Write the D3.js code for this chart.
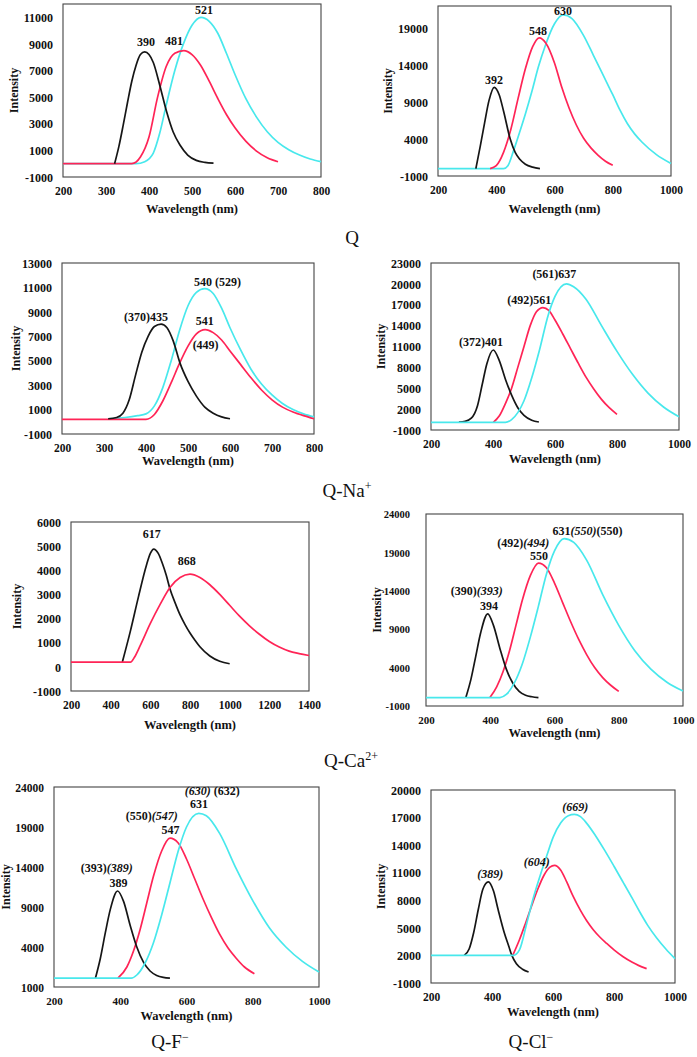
<!DOCTYPE html>
<html><head><meta charset="utf-8">
<script src="https://cdn.jsdelivr.net/npm/d3@7"></script>
<style>body{margin:0;background:#fff}svg{display:block}</style>
</head><body><svg id="c" width="697" height="1057"></svg>
<script>
// ---------- DATA (wavelength nm, intensity) ----------
const p1Black = [[320,0],[330,1300],[340,2900],[350,4600],[360,6200],[370,7400],[380,8200],[390,8400],[400,8200],[410,7600],[425,5900],[441,3900],[456,2400],[472,1400],[490,650],[510,250],[530,100],[550,50]];
const p1Red   = [[200,0],[360,0],[380,500],[400,2000],[420,5000],[440,7300],[460,8300],[481,8500],[500,8200],[520,7400],[540,6200],[560,4900],[580,3700],[600,2700],[625,1700],[650,950],[675,450],[700,150]];
const p1Teal  = [[200,0],[370,0],[390,150],[410,800],[425,2300],[440,4400],[460,7000],[480,9000],[500,10400],[521,11000],[540,10700],[560,9800],[580,8300],[600,6700],[625,4900],[650,3500],[675,2400],[700,1600],[725,1050],[750,650],[775,350],[800,150]];

const p2Black = [[330,0],[345,3000],[360,6200],[375,9200],[393,11000],[410,10000],[425,7800],[448,4000],[465,2200],[480,1300],[500,600],[525,200],[550,0]];
const p2Red   = [[379,0],[400,400],[425,2200],[450,5300],[475,9500],[500,13500],[525,16500],[548,17700],[570,17000],[600,14300],[625,11000],[650,8200],[675,5900],[700,4100],[725,2800],[750,1800],[775,1000],[800,450]];
const p2Teal  = [[200,0],[425,0],[440,400],[460,2500],[480,4900],[500,7400],[522,10400],[545,13800],[568,16600],[600,19600],[630,20800],[660,20300],[700,18000],[734,15300],[780,11600],[800,10000],[825,7900],[850,6100],[875,4700],[900,3600],[950,1900],[1000,700]];

const p3Black = [[310,250],[330,350],[345,700],[360,1800],[375,3800],[390,5700],[405,7000],[420,7800],[436,8000],[450,7700],[465,6600],[481,4800],[500,3300],[520,2100],[540,1200],[560,700],[580,400],[600,250]];
const p3Red   = [[200,200],[400,200],[420,600],[440,1700],[460,3200],[480,4800],[500,6200],[520,7200],[541,7550],[560,7300],[580,6700],[600,5800],[625,4700],[650,3600],[675,2600],[700,1800],[725,1200],[750,800],[775,500],[800,250]];
const p3Teal  = [[310,250],[350,350],[380,500],[400,650],[420,1300],[440,2800],[460,5000],[480,7500],[500,9500],[520,10600],[540,10900],[560,10500],[580,9300],[600,7700],[625,5900],[650,4300],[675,3100],[700,2200],[725,1500],[750,1000],[775,650],[800,400]];

const p4Black = [[290,150],[310,250],[330,700],[350,2500],[365,5500],[380,8500],[401,10500],[420,9000],[440,6300],[460,4000],[480,2200],[500,1100],[525,400],[548,150]];
const p4Red   = [[401,100],[420,1000],[440,2800],[460,5000],[480,8000],[500,11000],[520,14000],[540,16000],[561,16600],[580,16200],[600,14800],[625,12800],[650,10700],[675,8600],[700,6600],[725,4900],[750,3400],[775,2200],[800,1250]];
const p4Teal  = [[200,100],[440,100],[460,500],[480,1500],[500,3200],[525,6500],[550,10500],[578,15500],[600,18200],[637,20000],[660,19600],[700,17800],[750,14000],[800,10300],[850,7000],[900,4300],[950,2300],[1000,900]];

const p5Black = [[459,200],[500,1500],[540,2900],[580,4200],[600,4700],[617,4880],[640,4700],[660,4300],[680,3800],[700,3200],[725,2650],[750,2150],[775,1750],[800,1400],[825,1100],[850,830],[900,450],[950,230],[1000,130]];
const p5Red   = [[200,200],[500,200],[520,400],[550,900],[600,1800],[650,2600],[700,3300],[750,3700],[800,3840],[850,3700],[900,3400],[950,3000],[1000,2550],[1050,2100],[1100,1700],[1150,1350],[1200,1050],[1250,820],[1300,650],[1350,550],[1400,470]];

const p6Black = [[324,100],[340,2500],[355,5500],[370,8500],[392,11000],[410,9500],[430,6500],[450,3800],[470,2000],[490,900],[510,400],[530,200],[550,100]];
const p6Red   = [[399,100],[420,1500],[440,3500],[460,6200],[480,9500],[500,12800],[525,16000],[550,17600],[575,17000],[600,15000],[625,12500],[650,10000],[675,7700],[700,5700],[725,4000],[750,2700],[775,1700],[800,900]];
const p6Teal  = [[200,100],[430,100],[450,500],[475,2000],[500,4500],[525,8000],[550,12000],[575,16200],[600,19200],[630,20800],[660,20300],[700,18000],[750,13500],[800,9500],[850,6200],[900,3800],[950,2100],[1000,950]];

const p7Black = [[325,100],[340,2600],[355,5800],[370,8700],[392,11000],[410,9700],[430,6700],[450,4000],[470,2100],[490,1000],[510,450],[530,200],[550,100]];
const p7Red   = [[393,100],[420,1500],[440,3500],[460,6200],[480,9500],[500,12800],[525,16000],[550,17600],[575,17000],[600,15000],[625,12500],[650,10000],[675,7700],[700,5600],[725,3900],[750,2600],[775,1500],[805,650]];
const p7Teal  = [[200,100],[433,100],[450,500],[475,2000],[500,4500],[525,8000],[550,12000],[575,16000],[600,19000],[637,20700],[660,20400],[700,18200],[750,13800],[800,9800],[850,6400],[900,4000],[950,2200],[1000,870]];

const p8Black = [[309,2000],[325,2700],[340,4500],[355,7000],[370,9200],[388,10000],[405,9000],[420,7000],[440,4500],[455,3000],[465,2000],[480,1100],[500,500],[520,200]];
const p8Red   = [[468,2000],[490,3700],[510,5500],[530,7400],[550,9200],[570,10700],[590,11600],[605,11800],[625,11300],[645,10000],[665,8500],[690,6900],[710,5800],[732,4800],[755,3950],[776,3300],[800,2600],[830,1850],[860,1250],[880,920],[907,560]];
const p8Teal  = [[200,2000],[470,2000],[490,2600],[514,5500],[535,8200],[557,10600],[580,12900],[601,14900],[625,16400],[650,17200],[670,17350],[690,17100],[710,16400],[740,15000],[770,13400],[800,11700],[831,9900],[860,8200],[885,6700],[910,5300],[940,3900],[970,2700],[1000,1650]];

// tick values
const xTicks800  = [200,300,400,500,600,700,800];
const xTicks1000 = [200,400,600,800,1000];
const xTicks1400 = [200,400,600,800,1000,1200,1400];
const p1YTicks = [-1000,1000,3000,5000,7000,9000,11000];
const p2YTicks = [-1000,4000,9000,14000,19000];
const p3YTicks = [-1000,1000,3000,5000,7000,9000,11000,13000];
const p4YTicks = [-1000,2000,5000,8000,11000,14000,17000,20000,23000];
const p5YTicks = [-1000,0,1000,2000,3000,4000,5000,6000];
const p6YTicks = [-1000,4000,9000,14000,19000,24000];
const p7YTicks = [-1000,4000,9000,14000,19000,24000];
const p7YTickLabels = ["1000","4000","9000","14000","19000","24000"];
const p8YTicks = [-1000,2000,5000,8000,11000,14000,17000,20000];

// peak label texts ([text, italic])
const p1PeakTexts = [[["521"]],[["390"]],[["481"]]];
const p2PeakTexts = [[["630"]],[["548"]],[["392"]]];
const p3PeakTexts = [[["540 (529)"]],[["(370)435"]],[["541"]],[["(449)"]]];
const p4PeakTexts = [[["(561)637"]],[["(492)561"]],[["(372)401"]]];
const p5PeakTexts = [[["617"]],[["868"]]];
const p6PeakTexts = [[["631"],["(550)",1],["(550)"]],[["(492)"],["(494)",1]],[["550"]],[["(390)"],["(393)",1]],[["394"]]];
const p7PeakTexts = [[["(630)",1],[" (632)"]],[["631"]],[["(550)"],["(547)",1]],[["547"]],[["(393)"],["(389)",1]],[["389"]]];
const p8PeakTexts = [[["(669)",1]],[["(604)",1]],[["(389)",1]]];

const captionTexts = [["Q",""],["Q-Na","+"],["Q-Ca","2+"],["Q-F","\u2212"],["Q-Cl","\u2212"]];

// ---------- LAYOUT ----------
const COL = {black:"#161616", red:"#ff2456", teal:"#48e8ec"};
const FONT = "'Liberation Serif','Times New Roman',serif";
const panels = [
 {box:[63,4,321,177], x:[200,800], y:[-1000,12000], xt:xTicks800, yt:p1YTicks, s:[["teal",p1Teal],["red",p1Red],["black",p1Black]],
  lab:[[528,11474],[393,9092],[458,9182]], txt:p1PeakTexts, tOff:33, yTitleOff:48},
 {box:[438,6,671,176], x:[200,1000], y:[-1000,22000], xt:xTicks1000, yt:p2YTicks, s:[["teal",p2Teal],["red",p2Red],["black",p2Black]],
  lab:[[629,21230],[543,18415],[392,11853]], txt:p2PeakTexts, tOff:34, yTitleOff:49},
 {box:[62,263,314,434], x:[200,800], y:[-1000,13000], xt:xTicks800, yt:p3YTicks, s:[["teal",p3Teal],["red",p3Red],["black",p3Black]],
  lab:[[570,11379],[400,8522],[540,8194],[542,6205]], txt:p3PeakTexts, tOff:28.5, yTitleOff:45},
 {box:[431,263,679,430], x:[200,1000], y:[-1000,23000], xt:xTicks1000, yt:p4YTicks, s:[["red",p4Red],["black",p4Black],["teal",p4Teal]],
  lab:[[598,21277],[517,17540],[361,11461]], txt:p4PeakTexts, tOff:30, yTitleOff:49},
 {box:[71,522,309,691], x:[200,1400], y:[-1000,6000], xt:xTicks1400, yt:p5YTicks, s:[["black",p5Black],["red",p5Red]],
  lab:[[607,5461],[783,4331]], txt:p5PeakTexts, tOff:35, yTitleOff:53},
 {box:[426,514,683,706], x:[200,1000], y:[-1000,24000], xt:xTicks1000, yt:p6YTicks, s:[["red",p6Red],["black",p6Black],["teal",p6Teal]],
  lab:[[703,21617],[503,20055],[552,18440],[358,13883],[396,11852]], txt:p6PeakTexts, tOff:28.5, yTitleOff:48, yPad:16, yFs:10.5, fs:11},
 {box:[54,787,319,987], x:[200,1000], y:[-1000,24000], xt:xTicks1000, yt:p7YTicks, ytl:p7YTickLabels, s:[["red",p7Red],["black",p7Black],["teal",p7Teal]],
  lab:[[678,23350],[638,21700],[495,20250],[552,18500],[359,13712],[395,11837]], txt:p7PeakTexts, tOff:30, yTitleOff:47, yFs:11.5, fs:11},
 {box:[431,790,675,983], x:[200,1000], y:[-1000,20000], xt:xTicks1000, yt:p8YTicks, s:[["red",p8Red],["black",p8Black],["teal",p8Teal]],
  lab:[[673,18010],[547,12090],[394,10720]], txt:p8PeakTexts, tOff:30, yTitleOff:49}
];
const captionPos = [[352,244],[347,497],[351,767],[170,1048],[531,1048]];

const svg = d3.select("#c");
svg.append("rect").attr("width",697).attr("height",1057).attr("fill","#fff");

panels.forEach(p => {
  const [l,t,r,b] = p.box;
  const fs = p.fs || 11.5;
  const x = d3.scaleLinear().domain(p.x).range([l,r]);
  const y = d3.scaleLinear().domain(p.y).range([b,t]);
  const g = svg.append("g");
  const ax = g.append("g").attr("transform",`translate(0,${b})`)
    .call(d3.axisBottom(x).tickValues(p.xt).tickSize(0).tickPadding(10).tickFormat(d3.format("d")));
  const ay = g.append("g").attr("transform",`translate(${l},0)`)
    .call(d3.axisLeft(y).tickValues(p.yt).tickSize(0).tickPadding(p.yPad||10)
      .tickFormat((d,i)=> p.ytl ? p.ytl[i] : String(d)));
  [ax,ay].forEach(a => { a.select(".domain").remove();
    a.selectAll("text").attr("font-family",FONT).attr("font-weight","bold").attr("fill","#111"); });
  ax.selectAll("text").attr("font-size", fs);
  ay.selectAll("text").attr("font-size", p.yFs || 12).attr("dy","0.35em");
  g.append("rect").attr("x",l).attr("y",t).attr("width",r-l).attr("height",b-t)
    .attr("fill","none").attr("stroke","#444").attr("stroke-width",1.1);
  const line = d3.line().x(d=>x(d[0])).y(d=>y(d[1])).curve(d3.curveMonotoneX);
  p.s.forEach(([c,data]) => {
    g.append("path").datum(data).attr("d",line).attr("fill","none")
      .attr("stroke",COL[c]).attr("stroke-width",1.7).attr("stroke-linejoin","round");
  });
  g.append("text").attr("x",(l+r)/2).attr("y",b+p.tOff).attr("text-anchor","middle").attr("dominant-baseline","middle")
    .attr("font-family",FONT).attr("font-weight","bold").attr("font-size",12.5).attr("fill","#111").text("Wavelength (nm)");
  g.append("text").attr("transform",`translate(${l-p.yTitleOff},${(t+b)/2}) rotate(-90)`).attr("text-anchor","middle").attr("dominant-baseline","middle")
    .attr("font-family",FONT).attr("font-weight","bold").attr("font-size",12).attr("fill","#111").text("Intensity");
  p.lab.forEach((pos,i) => {
    const te = g.append("text").attr("x",x(pos[0])).attr("y",y(pos[1])).attr("text-anchor","middle").attr("dominant-baseline","middle")
      .attr("font-family",FONT).attr("font-weight","bold").attr("font-size",12).attr("fill","#111");
    p.txt[i].forEach(part => te.append("tspan").attr("font-style", part[1] ? "italic" : "normal").text(part[0]));
  });
});

captionTexts.forEach((c,i) => {
  const te = svg.append("text").attr("x",captionPos[i][0]).attr("y",captionPos[i][1]).attr("text-anchor","middle")
    .attr("font-family",FONT).attr("font-size",19).attr("fill","#111");
  te.append("tspan").text(c[0]);
  if (c[1]) te.append("tspan").attr("font-size",12).attr("dy",-7).text(c[1]);
});
</script></body></html>
